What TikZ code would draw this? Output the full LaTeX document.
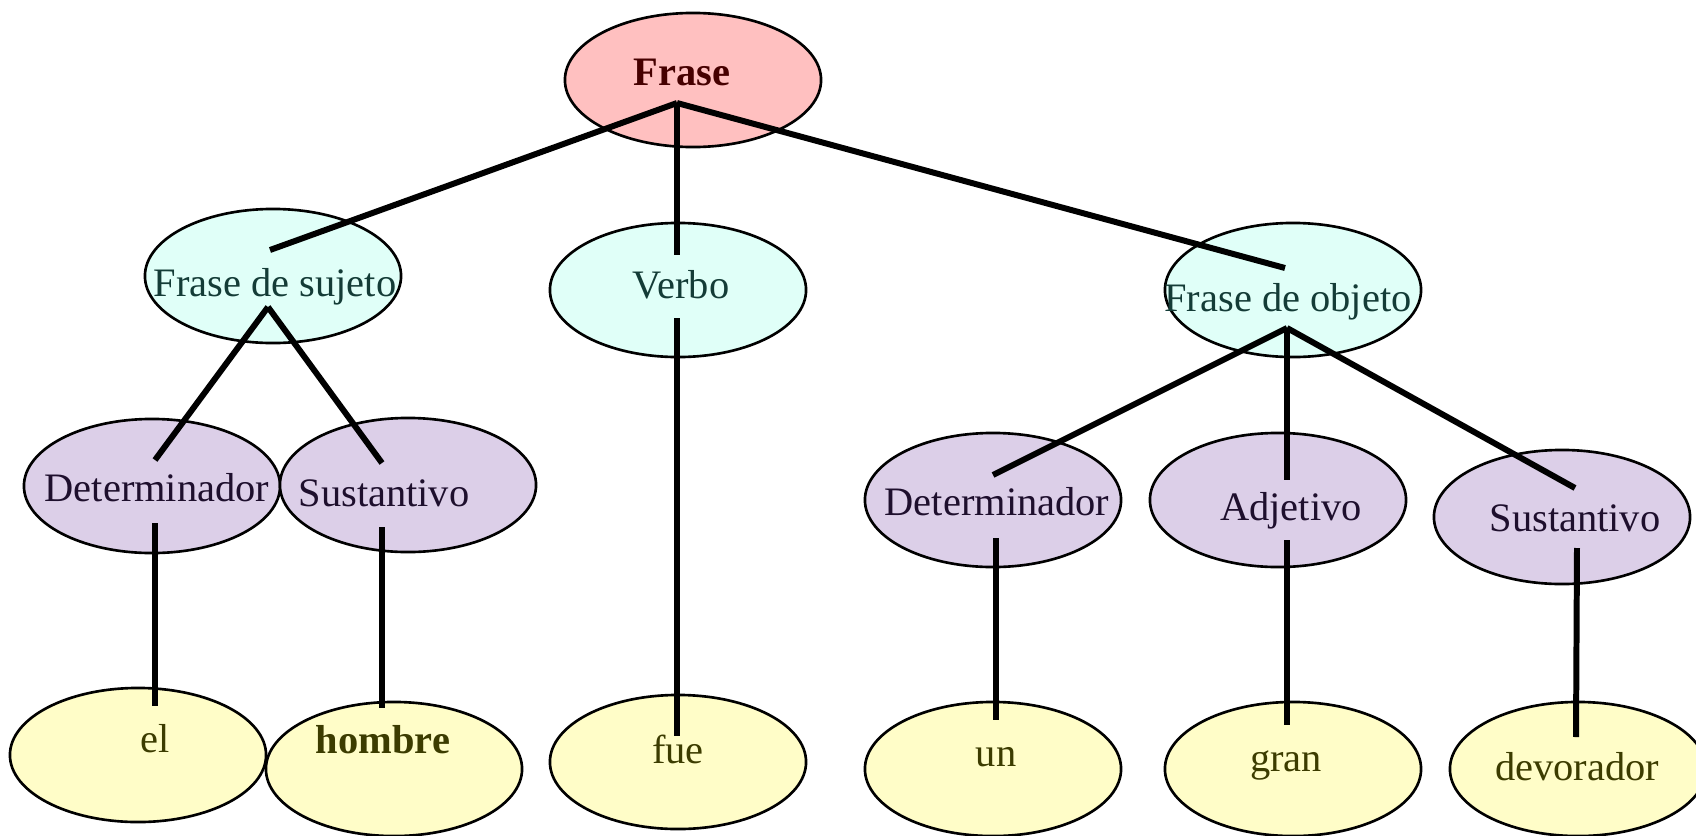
\documentclass[tikz,border=0pt]{standalone}
\usepackage{fontspec}
\setmainfont{Liberation Serif}
\usetikzlibrary{shapes.geometric,calc}
\definecolor{rootpink}{RGB}{255,192,192}
\definecolor{phrasecyan}{RGB}{224,255,248}
\definecolor{classlilac}{RGB}{220,207,232}
\definecolor{wordyellow}{RGB}{255,253,200}
\definecolor{roottext}{RGB}{70,0,0}
\definecolor{phrasetext}{RGB}{20,60,55}
\definecolor{classtext}{RGB}{30,15,45}
\definecolor{wordtext}{RGB}{60,60,0}
% text placed at an offset from the ellipse centre, without widening the ellipse
\newcommand{\nodetext}[3]{\rlap{\hspace*{#1}\makebox[0pt]{\raisebox{#2}{#3}}}}

\begin{document}
\begin{tikzpicture}[x=0.01cm, y=-0.01cm, every node/.style={font=\fontsize{11.5}{13}\selectfont},
  tree/.style={draw, ellipse, line width=0.75pt, minimum width=2.56cm, minimum height=1.34cm, inner sep=0pt, text height=7.6pt, text depth=0pt},
  root/.style={tree, fill=rootpink, text=roottext},
  phrase/.style={tree, fill=phrasecyan, text=phrasetext},
  wordclass/.style={tree, fill=classlilac, text=classtext},
  word/.style={tree, fill=wordyellow, text=wordtext},
  branch/.style={line width=1.7pt}]
  \useasboundingbox (0,0) rectangle (1696,836);
  \clip (0,0) rectangle (1696,836);
  \node[root] (frase) at (693,80) {\nodetext{-0.11cm}{0.08cm}{\textbf{Frase}}};
  \node[phrase] (fds) at (273,276) {\nodetext{0.02cm}{-0.07cm}{Frase de sujeto}};
  \node[phrase] (verbo) at (678,290) {\nodetext{0.03cm}{0.05cm}{Verbo}};
  \node[phrase] (fdo) at (1293,290) {\nodetext{-0.05cm}{-0.08cm}{Frase de objeto}};
  \node[wordclass] (detL) at (152,486) {\nodetext{0.05cm}{-0.02cm}{Determinador}};
  \node[wordclass] (sustL) at (408,485) {\nodetext{-0.24cm}{-0.08cm}{Sustantivo}};
  \node[wordclass] (detR) at (993,500) {\nodetext{0.04cm}{-0.02cm}{Determinador}};
  \node[wordclass] (adj) at (1278,500) {\nodetext{0.13cm}{-0.07cm}{Adjetivo}};
  \node[wordclass] (sustR) at (1562,517) {\nodetext{0.13cm}{-0.01cm}{Sustantivo}};
  \node[word] (el) at (138,755) {\nodetext{0.17cm}{0.16cm}{el}};
  \node[word] (hombre) at (394,769) {\nodetext{-0.11cm}{0.29cm}{\textbf{hombre}}};
  \node[word] (fue) at (678,762) {\nodetext{0cm}{0.12cm}{fue}};
  \node[word] (un) at (993,769) {\nodetext{0.03cm}{0.16cm}{un}};
  \node[word] (gran) at (1293,769) {\nodetext{-0.07cm}{0.11cm}{gran}};
  \node[word] (devorador) at (1578,769) {\nodetext{-0.01cm}{0.02cm}{devorador}};
  % branches start below the parent's text and stop above the child's text
  \foreach \a/\ax/\ay/\b/\bx/\by in {frase/-16/23/fds/-3/-26, frase/-16/23/verbo/-1/-35, frase/-16/23/fdo/-8/-22,
      fds/-5/31/detL/3/-26, fds/-5/31/sustL/-26/-22, verbo/-1/28/fue/-1/-26,
      fdo/-6/38/detR/0/-25, fdo/-6/38/adj/9/-20, fdo/-6/38/sustR/13/-29,
      detL/3/37/el/17/-49, sustL/-26/42/hombre/-12/-61, detR/3/38/un/3/-49,
      adj/9/40/gran/-6/-44, sustR/15/31/devorador/-2/-32}{\draw[branch] ($(\a)+(\ax,\ay)$) -- ($(\b)+(\bx,\by)$);}
\end{tikzpicture}
\end{document}
